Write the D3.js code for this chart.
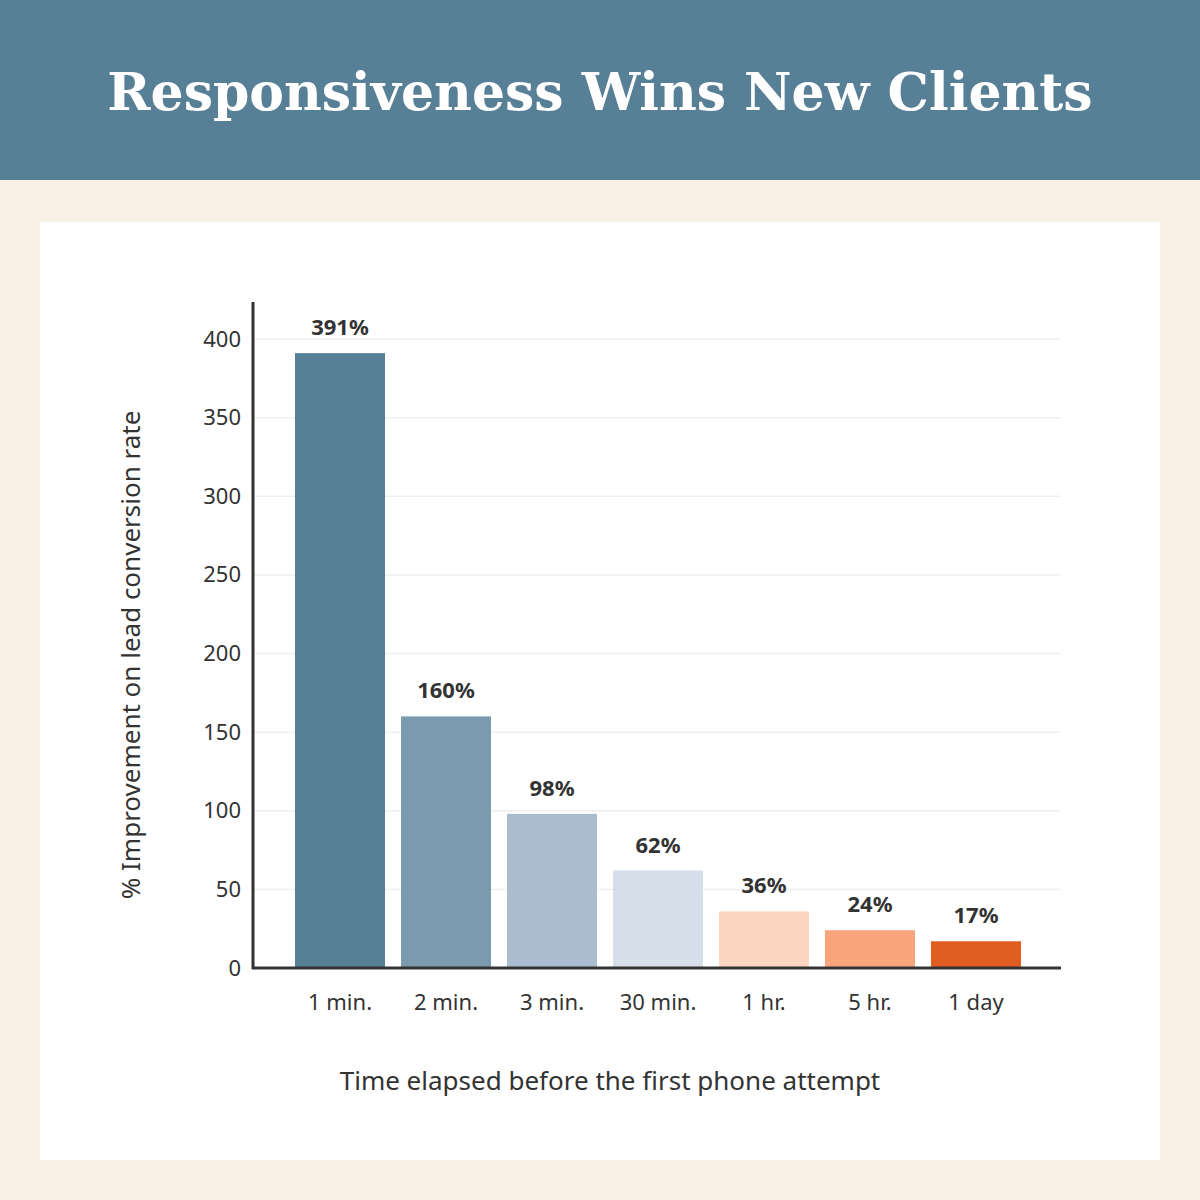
<!DOCTYPE html>
<html>
<head>
<meta charset="utf-8">
<script src="https://cdn.jsdelivr.net/npm/d3@7"></script>
<style>
  body { margin: 0; background: #f9f0e6; }
  text { font-family: "Noto Sans", sans-serif; fill: #333; }
</style>
</head>
<body>
<div id="chart"></div>
<script>
var categories = ["1 min.", "2 min.", "3 min.", "30 min.", "1 hr.", "5 hr.", "1 day"];
var values = [391, 160, 98, 62, 36, 24, 17];
var colors = ["#577f96", "#7a9aae", "#aabdcf", "#d6dee9", "#fcd6bf", "#f9a47a", "#e05e22"];
var yTicks = [0, 50, 100, 150, 200, 250, 300, 350, 400];

var svg = d3.select("#chart").append("svg").attr("width", 1200).attr("height", 1200);
svg.append("rect").attr("width", 1200).attr("height", 1200).attr("fill", "#f9f0e6");
svg.append("rect").attr("width", 1200).attr("height", 180).attr("fill", "#577f96");
svg.append("text").attr("x", 600).attr("y", 110).attr("text-anchor", "middle")
  .style("font-family", "'DejaVu Serif', serif").style("font-weight", "bold")
  .style("font-size", "52px").style("fill", "#fff")
  .text("Responsiveness Wins New Clients");
svg.append("rect").attr("x", 40).attr("y", 222).attr("width", 1120).attr("height", 938).attr("fill", "#fff");

var x = d3.scaleBand().domain(categories).range([287, 1029]).paddingInner(16 / 106).paddingOuter(8 / 106);
var y = d3.scaleLinear().domain([0, 400]).range([968, 339]);

// grid
svg.selectAll(".grid").data(yTicks.slice(1)).enter().append("line")
  .attr("x1", 253).attr("x2", 1060).attr("y1", d => y(d)).attr("y2", d => y(d))
  .attr("stroke", "#efefef").attr("stroke-width", 1.5);

svg.selectAll(".bar").data(values).enter().append("rect")
  .attr("x", (d, i) => x(categories[i])).attr("width", x.bandwidth())
  .attr("y", d => y(d)).attr("height", d => y(0) - y(d))
  .attr("fill", (d, i) => colors[i]);

svg.selectAll(".lbl").data(values).enter().append("text")
  .attr("x", (d, i) => x(categories[i]) + x.bandwidth() / 2).attr("y", d => y(d) - 18)
  .attr("text-anchor", "middle").style("font-weight", "bold").style("font-size", "22px")
  .text(d => d + "%");

// y axis
var yAxis = svg.append("g").attr("transform", "translate(253,0)")
  .call(d3.axisLeft(y).tickValues(yTicks).tickSize(0).tickPadding(12));
yAxis.select(".domain").remove();
yAxis.selectAll("text").style("font-size", "22px").style("fill", "#333");
svg.append("line").attr("x1", 253).attr("x2", 253).attr("y1", 302).attr("y2", 969)
  .attr("stroke", "#333").attr("stroke-width", 3);

// x axis
var xAxis = svg.append("g").attr("transform", "translate(0,968)")
  .call(d3.axisBottom(x).tickSize(0).tickPadding(26));
xAxis.select(".domain").remove();
xAxis.selectAll("text").style("font-size", "22px").style("fill", "#333");
svg.append("line").attr("x1", 252).attr("x2", 1061).attr("y1", 968).attr("y2", 968)
  .attr("stroke", "#333").attr("stroke-width", 3);

svg.append("text").attr("x", 610).attr("y", 1090).attr("text-anchor", "middle")
  .style("font-size", "26px").text("Time elapsed before the first phone attempt");
svg.append("text").attr("transform", "translate(140,655) rotate(-90)").attr("text-anchor", "middle")
  .style("font-size", "26px").text("% Improvement on lead conversion rate");
</script>
</body>
</html>
